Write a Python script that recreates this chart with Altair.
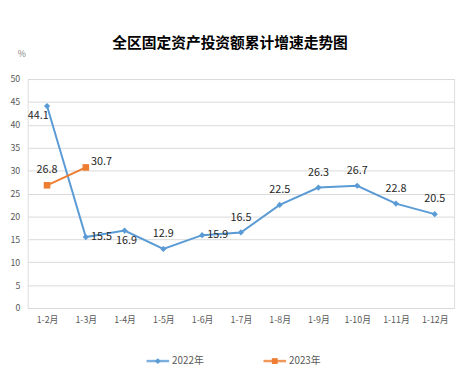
import altair as alt
import pandas as pd

months = ["1-2月", "1-3月", "1-4月", "1-5月", "1-6月", "1-7月", "1-8月", "1-9月", "1-10月", "1-11月", "1-12月"]
v2022 = [44.1, 15.5, 16.9, 12.9, 15.9, 16.5, 22.5, 26.3, 26.7, 22.8, 20.5]
v2023 = [26.8, 30.7]
place2022 = ["leftbelow", "right", "below", "above", "right", "above", "above", "above", "above", "above", "above"]
place2023 = ["above", "rightup"]

FONT = "Noto Sans CJK SC"
BLUE = "#5B9BD5"
ORANGE = "#ED7D31"

d22 = pd.DataFrame({"m": months, "v": v2022, "s": "2022年", "p": place2022})
d23 = pd.DataFrame({"m": months[:len(v2023)], "v": v2023, "s": "2023年", "p": place2023})

W, H = 434, 233
xsc = alt.Scale(domain=months, paddingInner=0, paddingOuter=0.5)
ysc = alt.Scale(domain=[0, 50], nice=False)

xenc = alt.X("m:N", scale=xsc, sort=months, title=None,
             axis=alt.Axis(labelAngle=0, labelFont=FONT, labelFontSize=9, labelColor="#595959",
                           domainColor="#D9D9D9", ticks=False, labelPadding=8, grid=False))
yenc = alt.Y("v:Q", scale=ysc, title=None,
             axis=alt.Axis(values=list(range(0, 51, 5)), labelFont=FONT, labelFontSize=9,
                           labelColor="#595959", domain=False, ticks=False, gridColor="#D9D9D9",
                           labelPadding=8))

line22 = alt.Chart(d22).mark_line(color=BLUE, strokeWidth=2).encode(x=xenc, y=yenc)
pt22 = alt.Chart(d22).mark_point(shape="diamond", filled=True, color=BLUE, size=40, opacity=1).encode(x=xenc, y=yenc)
line23 = alt.Chart(d23).mark_line(color=ORANGE, strokeWidth=2).encode(x=xenc, y=yenc)
pt23 = alt.Chart(d23).mark_point(shape="square", filled=True, color=ORANGE, size=45, opacity=1).encode(x=xenc, y=yenc)

offsets = {"above": (0, -15), "below": (2, 11), "right": (16, 0), "rightup": (16, -5), "leftbelow": (-9, 10)}
labels = []
for df in (d22, d23):
    for p, (dx, dy) in offsets.items():
        sub = df[df["p"] == p]
        if len(sub) == 0:
            continue
        labels.append(
            alt.Chart(sub).mark_text(font=FONT, fontSize=11, color="#262626", dx=dx, dy=dy)
            .encode(x=xenc, y=yenc, text=alt.Text("v:Q", format=".1f"))
        )

pct = alt.Chart(pd.DataFrame({"t": ["%"]})).mark_text(font=FONT, fontSize=9, color="#7F7F7F").encode(
    x=alt.value(-6), y=alt.value(-25), text="t:N")

# legend
leg = []
for s, col, shape, x0 in (("2022年", BLUE, "diamond", 121), ("2023年", ORANGE, "square", 240)):
    ldf = pd.DataFrame({"t": [s]})
    leg.append(alt.Chart(ldf).mark_rule(color=col, strokeWidth=2.5, opacity=0.8).encode(
        x=alt.value(x0), x2=alt.value(x0 + 23), y=alt.value(287)))
    leg.append(alt.Chart(ldf).mark_point(shape=shape, filled=True, color=col, size=35, opacity=1).encode(
        x=alt.value(x0 + 11.5), y=alt.value(287)))
    leg.append(alt.Chart(ldf).mark_text(font=FONT, fontSize=10, color="#595959", align="left").encode(
        x=alt.value(x0 + 26), y=alt.value(287), text="t:N"))

chart = alt.layer(line22, pt22, line23, pt23, *labels, pct, *leg).properties(
    width=W, height=H,
    title=alt.TitleParams("全区固定资产投资额累计增速走势图", font=FONT, fontSize=15, fontWeight="bold",
                          color="#000000", anchor="middle", dx=-11, offset=0),
    autosize=alt.AutoSizeParams(type="none"),
    padding={"left": 20, "top": 69, "right": 6, "bottom": 72},
).configure_view(stroke=None).configure(background="white")

chart.save("out.html", embed_options={"renderer": "svg", "actions": False})
